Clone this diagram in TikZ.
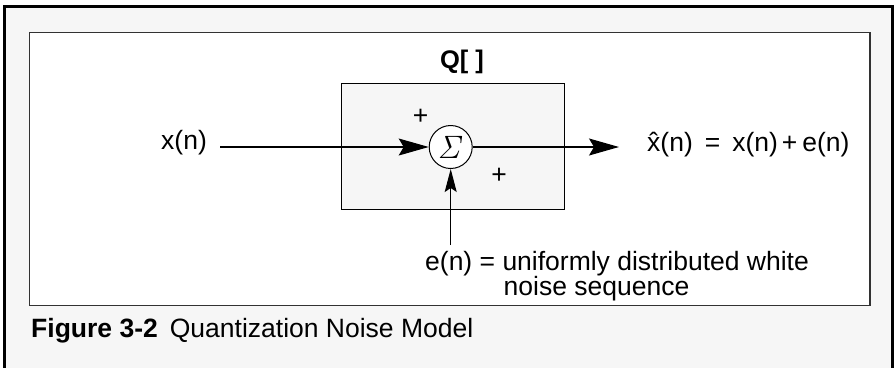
\documentclass[tikz,border=0pt]{standalone}
\usepackage[no-math]{fontspec}
\usepackage{graphicx}
\setmainfont{Liberation Sans}
\usetikzlibrary{arrows.meta}
\definecolor{panel}{RGB}{246,246,246}
\definecolor{boxline}{RGB}{50,50,50}
\tikzset{
  txt/.style={inner sep=0pt, font=\fontsize{26.5}{26.5}\selectfont},
  boldtxt/.style={inner sep=0pt, font=\fontsize{25.5}{25.5}\selectfont\bfseries},
  wire/.style={line width=1.1pt},
  bigtip/.style={-{Stealth[length=30pt,width=17pt,inset=5pt]}},
  smalltip/.style={-{Stealth[length=23pt,width=12pt,inset=4pt]}},
  sumnode/.style={circle, draw, line width=1pt, fill=white, minimum size=43pt, inner sep=0pt},
  qbox/.style={draw, line width=1pt, fill=panel}
}
\begin{document}
\begin{tikzpicture}[x=1pt,y=-1pt]
\useasboundingbox (0,0) rectangle (894,367);
% outer frame
\draw[line width=2.6pt, fill=panel] (4.5,6.5) rectangle (892.5,420);
% inner white panel
\draw[line width=1.6pt, draw=boxline, fill=white] (29.5,32.5) rectangle (870,305.5);
% quantizer box
\node[qbox, minimum width=223.5pt, minimum height=126pt, inner sep=0pt] (qb) at (452.75,146) {};
\node[boldtxt, anchor=base] (qlabel) at (462,68.5) {Q[ ]};
% summing junction
\node[sumnode] (sig) at (450.7,147) {\scalebox{1.3}{\fontsize{24.88}{24.88}\selectfont$\mathit{\Sigma}$}};
\node[txt] (plusa) at (420.7,116.7) {+};
\node[txt] (plusb) at (499,176) {+};
% input
\node[txt, anchor=base west] (xn) at (161,149) {x(n)};
\coordinate (xin) at (220,147);
\draw[wire, bigtip] (xin) -- (sig.west);
% output
\coordinate (xout) at (619,147);
\draw[wire, bigtip] (sig.east) -- (xout);
\node[txt, anchor=base west] (xhat) at (647,151) {\^{x}(n)\hspace{12pt}=\hspace{12pt}x(n)\hspace{4pt}+\hspace{5pt}e(n)};
% noise
\coordinate (ein) at (450.7,245);
\draw[wire, smalltip] (ein) -- (sig.south);
\node[txt, anchor=base west] (en) at (425,270) {e(n) = uniformly distributed white};
\node[txt, anchor=base west] (en2) at (503.5,295) {noise sequence};
% caption
\node[txt, anchor=base west] (cap) at (31,337) {\textbf{Figure 3-2}\hspace{12pt}Quantization Noise Model};
\end{tikzpicture}
\end{document}
